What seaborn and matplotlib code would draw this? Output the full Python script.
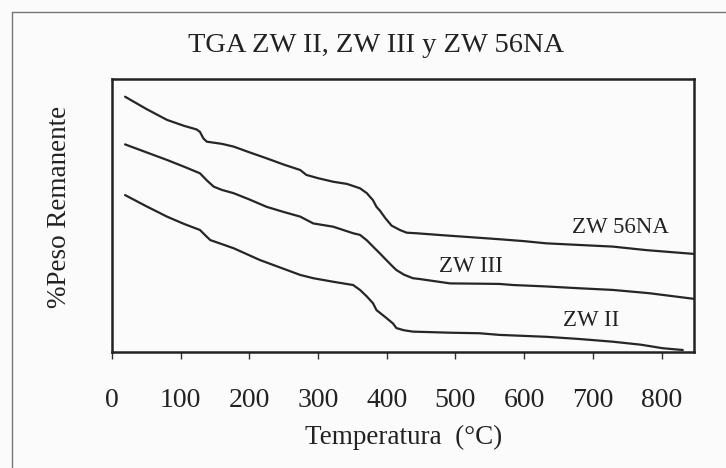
import matplotlib
matplotlib.use("Agg")
import matplotlib.pyplot as plt
from matplotlib.lines import Line2D
import pandas as pd
import seaborn as sns

# Thermogravimetric curves (temperature in °C, curves offset vertically)
temp_56na = [19, 50, 80, 105, 123, 128, 133, 138, 160, 177, 200, 225, 250, 274, 283,
             300, 322, 342, 361, 371, 380, 385, 390, 398, 407, 419, 429, 443, 480,
             525, 564, 600, 632, 680, 729, 778, 848]
mass_56na = [93.5, 89.0, 85.0, 82.8, 81.5, 80.6, 78.2, 77.0, 76.2, 75.2, 73.1, 70.9,
             68.6, 66.6, 64.8, 63.6, 62.3, 61.5, 59.9, 58.1, 55.5, 53.1, 51.7, 48.9,
             46.2, 44.6, 43.6, 43.4, 42.7, 41.9, 41.2, 40.5, 39.7, 39.1, 38.5, 37.2,
             35.8]

temp_iii = [19, 50, 80, 105, 128, 138, 148, 160, 177, 200, 225, 250, 274, 293, 322,
            351, 361, 371, 380, 390, 400, 409, 414, 425, 438, 448, 492, 530, 564,
            584, 630, 681, 729, 782, 848]
mass_iii = [76.0, 73.1, 70.3, 67.8, 65.4, 62.8, 60.5, 59.3, 58.1, 55.8, 53.1, 51.2,
            49.5, 47.0, 45.8, 43.4, 42.8, 40.8, 38.5, 36.0, 33.4, 31.1, 29.9, 28.2,
            26.9, 26.6, 25.0, 24.9, 24.8, 24.4, 23.9, 23.2, 22.6, 21.4, 19.3]

temp_ii = [19, 50, 80, 105, 128, 136, 143, 160, 177, 200, 215, 245, 274, 293, 322,
           351, 361, 371, 380, 385, 398, 409, 414, 425, 438, 492, 535, 564, 632,
           680, 729, 770, 802, 831]
mass_ii = [57.4, 53.3, 49.5, 46.8, 44.6, 42.6, 40.9, 39.4, 37.9, 35.3, 33.6, 30.8,
           28.1, 26.9, 25.6, 24.4, 22.6, 20.2, 17.7, 15.2, 12.6, 10.3, 8.6, 7.8,
           7.3, 6.9, 6.7, 6.1, 5.4, 4.6, 3.6, 2.5, 1.2, 0.55]

series_names = ["ZW 56NA", "ZW III", "ZW II"]
x_ticks = [0, 100, 200, 300, 400, 500, 600, 700, 800]

frames = []
for name, t, m in zip(series_names, [temp_56na, temp_iii, temp_ii],
                      [mass_56na, mass_iii, mass_ii]):
    frames.append(pd.DataFrame({"Temperatura": t, "Peso": m, "Muestra": name}))
data = pd.concat(frames, ignore_index=True)

sns.set_theme(style="white")
plt.rcParams["font.family"] = ["Liberation Serif", "DejaVu Serif"]

fig = plt.figure(figsize=(7.26, 4.68), dpi=100, facecolor="#fbfbfb")
ax = fig.add_axes([0.1543, 0.2489, 0.8023, 0.5823])
ax.set_facecolor("#fbfbfb")

sns.lineplot(data=data, x="Temperatura", y="Peso", hue="Muestra",
             palette={n: "#262626" for n in series_names}, linewidth=1.6,
             sort=False, estimator=None, legend=False, ax=ax)

ax.set_xlim(0, 848)
ax.set_ylim(0, 100)
ax.set_xticks(x_ticks)
ax.set_xticklabels([str(v) for v in x_ticks])
ax.set_yticks([])
ax.tick_params(axis="x", direction="out", length=5, width=1, color="#333333",
               labelsize=20, pad=21, labelcolor="#222222", bottom=True)
for s in ax.spines.values():
    s.set_visible(True)
    s.set_color("#222222")
    s.set_linewidth(1.8)

ax.set_xlabel("Temperatura  (°C)", fontsize=19.5, color="#222222", labelpad=9)
ax.set_ylabel("%Peso Remanente", fontsize=19.5, color="#222222", labelpad=26)
ax.yaxis.set_label_coords(-0.069, 0.53)

fig.text(376 / 726, 1 - 45 / 468, "TGA ZW II, ZW III y ZW 56NA", fontsize=20.5,
         ha="center", va="center", color="#222222")

# Series labels inside the plot
ax.text(740, 45.6, "ZW 56NA", fontsize=16.5, ha="center", va="center", color="#222222")
ax.text(522, 31.3, "ZW III", fontsize=16.5, ha="center", va="center", color="#222222")
ax.text(698, 11.3, "ZW II", fontsize=16.5, ha="center", va="center", color="#222222")

# Chart-area border (left and top edges)
fig.add_artist(Line2D([12 / 726, 12 / 726], [0, 1 - 12 / 468], color="#777777", lw=1))
fig.add_artist(Line2D([12 / 726, 1], [1 - 12 / 468, 1 - 12 / 468], color="#777777", lw=1))

fig.savefig("out.png", dpi=100, facecolor=fig.get_facecolor())
